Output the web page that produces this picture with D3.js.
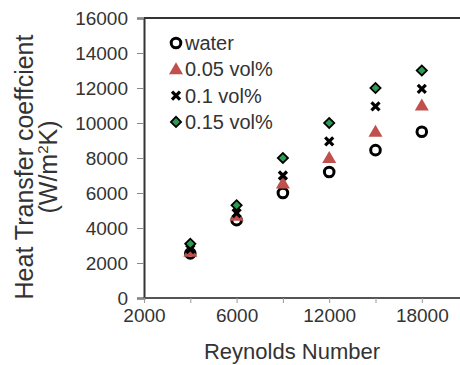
<!DOCTYPE html>
<meta charset="utf-8">
<script src="https://d3js.org/d3.v7.min.js"></script>
<style>
  body { margin: 0; background: #fff; }
  text { font-family: "Liberation Sans", Arial, sans-serif; fill: #333; }
</style>
<body>
<div id="chart"></div>
<script>
// data
var reynolds = [3000, 6000, 9000, 12000, 15000, 18000];
var water   = [2550, 4450, 6000, 7200, 8450, 9500];
var vol005  = [2650, 4700, 6550, 8000, 9500, 11000];
var vol01   = [2800, 4850, 7000, 8950, 10950, 11950];
var vol015  = [3100, 5300, 8000, 10000, 12000, 13000];
var seriesNames = ["water", "0.05 vol%", "0.1 vol%", "0.15 vol%"];
var xTickValues = [0, 3000, 6000, 9000, 12000, 15000, 18000];
var xTickLabels = ["2000", "", "6000", "", "12000", "", "18000"];
var yTickValues = [0, 2000, 4000, 6000, 8000, 10000, 12000, 14000, 16000];

(function() {
  var width = 460, height = 365;
  var left = 144, top = 18, bottom = 298;

  var svg = d3.select("#chart").append("svg")
    .attr("width", width)
    .attr("height", height);

  var x = d3.scaleLinear().domain([0, 21000]).range([left, left + 21000 * 46.3 / 3000]);
  var y = d3.scaleLinear().domain([0, 16000]).range([bottom, top]);

  // top frame line
  svg.append("line")
    .attr("x1", left).attr("x2", width)
    .attr("y1", y(16000)).attr("y2", y(16000))
    .attr("stroke", "#333").attr("stroke-width", 2);

  // y axis
  var yAxis = svg.append("g")
    .attr("transform", "translate(" + left + ",0)")
    .call(d3.axisLeft(y).tickValues(yTickValues).tickSize(7).tickPadding(9).tickFormat(d3.format("d")));
  yAxis.select(".domain").attr("stroke", "#333").attr("stroke-width", 2);
  yAxis.selectAll(".tick line").attr("stroke", "#888");
  yAxis.selectAll("text").style("font-size", "19px").attr("fill", "#333");

  // x axis
  var xAxis = svg.append("g")
    .attr("transform", "translate(0," + bottom + ")")
    .call(d3.axisBottom(x).tickValues(xTickValues).tickSize(5).tickPadding(6)
      .tickFormat(function(d, i) { return xTickLabels[i]; }));
  xAxis.select(".domain").attr("stroke", "#555").attr("stroke-width", 2)
    .attr("d", "M" + left + ",0H" + width);
  xAxis.selectAll(".tick line").attr("stroke", "#999");
  xAxis.selectAll("text").style("font-size", "19px").attr("fill", "#333");

  // axis titles
  svg.append("text")
    .attr("x", 292).attr("y", 359)
    .attr("text-anchor", "middle")
    .style("font-size", "22px")
    .text("Reynolds Number");

  var yt = svg.append("text")
    .attr("transform", "translate(0,167) rotate(-90)")
    .attr("text-anchor", "middle")
    .style("font-size", "25px");
  yt.append("tspan").attr("x", 0).attr("y", 33).text("Heat Transfer coeffcient");
  var l2 = yt.append("tspan").attr("x", 0).attr("y", 57);
  l2.append("tspan").text("(W/m");
  l2.append("tspan").attr("dy", -9).style("font-size", "15px").text("2");
  l2.append("tspan").attr("dy", 9).text("K)");

  // markers
  function drawMarker(g, k) {
    if (k === 0) {
      g.append("circle").attr("r", 4.8).attr("fill", "#fff")
        .attr("stroke", "#000").attr("stroke-width", 3);
    } else if (k === 1) {
      g.append("path").attr("d", d3.symbol(d3.symbolTriangle, 85)())
        .attr("transform", "translate(0,1)")
        .attr("fill", "#c0504d");
    } else if (k === 2) {
      g.append("path").attr("d", "M-4,-4L4,4M-4,4L4,-4")
        .attr("stroke", "#000").attr("stroke-width", 3.2);
    } else {
      g.append("rect").attr("x", -3.6).attr("y", -3.6).attr("width", 7.2).attr("height", 7.2)
        .attr("transform", "rotate(45)")
        .attr("fill", "#2e9a55").attr("stroke", "#000").attr("stroke-width", 1.8);
    }
  }

  var allSeries = [water, vol005, vol01, vol015];
  allSeries.forEach(function(vals, k) {
    vals.forEach(function(v, i) {
      var g = svg.append("g")
        .attr("transform", "translate(" + x(reynolds[i]) + "," + y(v) + ")");
      drawMarker(g, k);
    });
  });

  // legend
  seriesNames.forEach(function(name, k) {
    var cy = 43 + k * 26.3;
    var g = svg.append("g").attr("transform", "translate(176," + cy + ")");
    drawMarker(g, k);
    svg.append("text")
      .attr("x", 185).attr("y", cy + 7)
      .style("font-size", "20px")
      .text(name);
  });
})();
</script>
</body>
